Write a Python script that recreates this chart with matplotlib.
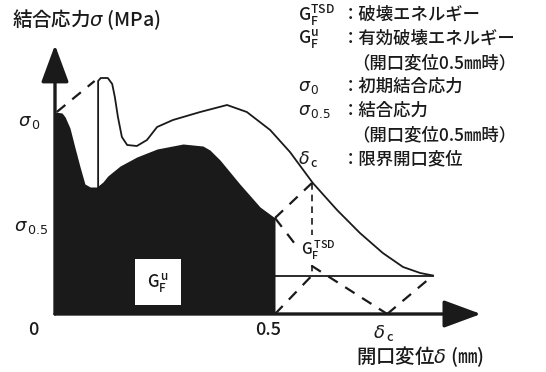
import numpy as np
import matplotlib.pyplot as plt
from matplotlib.patches import FancyArrowPatch

plt.rcParams['font.family'] = ['Noto Sans CJK JP', 'DejaVu Sans']
plt.rcParams['mathtext.fontset'] = 'dejavusans'

INK = '#1a1a1a'
W, H = 546, 372

# Cohesive stress curves, opening displacement in mm, stress in MPa
# lower (filled) curve up to 0.5 mm
delta_fill = [0.0, 0.016, 0.023, 0.034, 0.045, 0.057, 0.068, 0.080, 0.095,
              0.109, 0.120, 0.148, 0.186, 0.232, 0.291, 0.336, 0.352, 0.375,
              0.420, 0.466, 0.500]
sigma_fill = [4.04, 4.02, 3.94, 3.72, 3.34, 2.94, 2.60, 2.54, 2.54,
              2.64, 2.76, 2.96, 3.14, 3.30, 3.40, 3.36, 3.28, 3.08,
              2.60, 2.14, 1.92]

# upper curve, starting at the thin vertical line
delta_up = [0.098, 0.098, 0.104, 0.120, 0.130, 0.136, 0.143, 0.152, 0.164,
            0.186, 0.209, 0.232, 0.268, 0.330, 0.391, 0.436, 0.489, 0.534,
            0.586, 0.641, 0.693, 0.745, 0.791, 0.830, 0.859]
sigma_up = [2.54, 4.66, 4.72, 4.72, 4.60, 4.34, 3.94, 3.54, 3.38,
            3.36, 3.48, 3.74, 3.88, 4.04, 4.18, 4.04, 3.68, 3.24,
            2.62, 2.08, 1.62, 1.22, 0.94, 0.82, 0.77]

sigma_0 = 4.04
sigma_05 = 1.92
delta_05 = 0.5
delta_c = 0.755
delta_end = 0.859
sigma_end = 0.77
delta_mid = 0.584      # vertical dotted line
sigma_top = 2.62       # where it meets the upper curve
sigma_knee = 0.96

# helper lines (dashed)
dash_lines = [
    ([0.004, 0.090], [sigma_0, 4.66]),
    ([delta_05, delta_mid], [sigma_05, sigma_top]),
    ([delta_05, delta_mid, delta_c], [sigma_05, sigma_knee, 0.0]),
    ([delta_05, delta_mid], [0.0, sigma_end]),
    ([delta_c, delta_end], [0.0, sigma_end]),
]

fig = plt.figure(figsize=(W / 100, H / 100), dpi=100)
ax = fig.add_axes([0, 0, 1, 1])
ax.set_xlim(-55 / 440, (W - 55) / 440)
ax.set_ylim((314 - H) / 50, 314 / 50)
ax.axis('off')

ax.fill_between(delta_fill, sigma_fill, 0, color=INK, lw=0, zorder=2)
ax.plot(delta_up, sigma_up, color=INK, lw=1.3, zorder=3)
ax.plot([delta_05, delta_end], [sigma_end, sigma_end], color=INK, lw=1.3, zorder=3)
ax.plot([delta_mid, delta_mid], [sigma_top, sigma_end], color=INK, lw=1.2,
        ls=(0, (4, 3)), zorder=3)
for xs, ys in dash_lines:
    ax.plot(xs, ys, color=INK, lw=1.6, ls=(0, (5, 4)), zorder=3)

# axes with arrow heads
for tip in [(0.0, 5.38), (0.968, 0.0)]:
    ax.add_patch(FancyArrowPatch((0, 0), tip, arrowstyle='-|>,head_length=23,head_width=8.5',
                                 mutation_scale=1, lw=2.4, color=INK,
                                 shrinkA=0, shrinkB=0, zorder=5))


def put(x, y, s, size=12, **kw):
    kw.setdefault('va', 'center')
    kw.setdefault('fontweight', 'medium')
    return fig.text(x / W, 1 - y / H, s, fontsize=size, color=INK, **kw)


put(12, 20, r'結合応力$\sigma$ (MPa)', size=14)
put(356, 357, r'開口変位$\delta$ (㎜)', size=14)

put(18, 122, r'$\sigma_{\,0}$', size=13)
put(14, 227, r'$\sigma_{\,0.5}$', size=13)
put(33, 330, '0', size=13, ha='center')
put(268, 330, '0.5', size=13, ha='center')
put(384, 333, r'$\delta_{\,\mathregular{c}}$', size=13, ha='center')

put(158, 282, r'$\mathregular{G_F^{\,u}}$', size=12, ha='center', zorder=6,
    bbox=dict(boxstyle='square,pad=0.7', fc='white', ec='none'))
put(318, 250, r'$\mathregular{G_F^{\,TSD}}$', size=11, ha='center', zorder=6,
    bbox=dict(boxstyle='square,pad=0.2', fc='white', ec='none'))

# key
keys = [(r'$\mathregular{G_F^{TSD}}$', '：破壊エネルギー'),
        (r'$\mathregular{G_F^{u}}$', '：有効破壊エネルギー'),
        ('', '（開口変位0.5㎜時）'),
        (r'$\sigma_{\,0}$', '：初期結合応力'),
        (r'$\sigma_{\,0.5}$', '：結合応力'),
        ('', '（開口変位0.5㎜時）'),
        (r'$\delta_{\,\mathregular{c}}$', '：限界開口変位')]
for i, (sym, txt) in enumerate(keys):
    y = 15 + 24 * i
    if sym:
        put(298, y, sym, size=12.5)
    put(342 if sym else 352, y, txt, size=12.5)

fig.savefig('out.png', dpi=100, facecolor='white')
